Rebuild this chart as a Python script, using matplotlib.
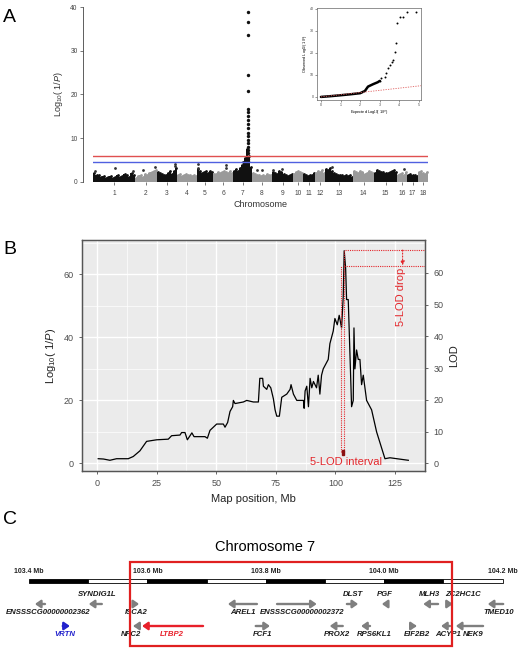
import matplotlib
matplotlib.use('Agg')
import matplotlib.pyplot as plt
from matplotlib.patches import Rectangle
from matplotlib.ticker import MultipleLocator

plt.rcParams['font.family'] = ['Liberation Sans', 'DejaVu Sans']
plt.rcParams['mathtext.fontset'] = 'custom'
plt.rcParams['mathtext.rm'] = 'Liberation Sans'
plt.rcParams['mathtext.it'] = 'Liberation Sans:italic'

# ---------------- panel A data (manhattan) ----------------
chrom_names = [str(i) for i in range(1, 19)]
chrom_len = [42, 22, 20, 20, 16, 20, 19, 20, 21, 10, 12, 10, 28, 21, 23, 10, 11, 10]
chrom_env = [
	[2.0, 1.5, 1.6, 1.2, 1.4, 1.0, 1.1, 1.3, 1.0, 1.2, 1.6, 1.1, 1.3, 1.8, 1.5, 1.2, 2.0, 1.6],
	[1.0, 1.3, 1.5, 1.2, 1.8, 1.6, 2.0, 2.2, 2.5, 2.8],
	[2.2, 2.0, 1.8, 1.7, 1.5, 2.0, 2.5, 1.8, 2.6, 3.3],
	[1.5, 1.8, 1.4, 1.7, 1.9, 1.6, 1.5, 1.3, 1.6, 1.4],
	[3.0, 2.5, 2.0, 2.3, 2.6, 2.0, 2.4, 2.2],
	[1.8, 1.9, 2.2, 2.0, 2.3, 2.6, 2.2, 2.0, 2.4, 2.1],
	[2.5, 3.0, 2.6, 3.2, 3.8, 4.5, 5.5, 7.5, 6.0, 3.5],
	[2.0, 1.8, 1.5, 1.7, 1.3, 1.6, 1.4, 1.8, 1.5, 1.7],
	[2.2, 2.0, 1.8, 2.5, 2.2, 1.8, 1.6, 1.4, 1.5, 1.8],
	[1.8, 2.2, 2.5, 2.3, 2.0],
	[1.8, 1.5, 1.3, 1.6, 1.5, 2.0],
	[2.0, 2.5, 2.2, 2.8, 2.0],
	[3.0, 2.8, 3.2, 2.5, 2.0, 1.8, 1.6, 1.5, 1.7, 1.4, 1.6, 1.3, 1.5, 1.2],
	[2.5, 2.3, 2.0, 2.4, 2.2, 1.8, 2.1, 2.5, 2.3, 2.0],
	[2.0, 2.8, 2.5, 2.3, 2.2, 2.0, 2.1, 2.3, 2.4, 2.8, 2.2],
	[1.5, 1.8, 2.0, 1.7, 2.2],
	[1.5, 1.8, 1.6, 1.7, 1.4],
	[2.2, 2.5, 2.0, 1.8, 2.3],
]
outlier_pos = [2, 22, 40, 50, 62, 82, 82, 105, 105, 133, 133, 164, 169, 180, 189, 239, 311]
outlier_val = [2.6, 3.1, 2.6, 2.8, 3.5, 4.0, 3.6, 4.0, 3.3, 3.8, 3.2, 2.8, 2.7, 2.8, 3.0, 3.5, 3.0]
peak_pos = 155
peak_val = [38.9, 36.6, 33.6, 24.5, 20.9, 16.7, 16.1, 15.1, 14.2, 13.3, 12.3, 11.3,
			10.4, 9.6, 8.8, 8.1, 7.3, 6.6, 5.8, 5.2, 4.8]
thres_red = 6.0
thres_blue = 4.5

# QQ inset
qq_exp = [0, 0.5, 1.0, 1.5, 2.0, 2.24, 2.4, 2.66, 2.9, 3.0, 3.08, 3.25, 3.34, 3.42,
		  3.5, 3.6, 3.68, 3.76, 3.81, 3.9, 4.02, 4.19, 4.41, 4.86]
qq_obs = [0, 0.35, 0.76, 1.2, 1.7, 2.7, 4.7, 5.8, 6.7, 7.3, 8.8, 9.2, 10.8, 13.0,
		  14.5, 15.8, 16.8, 20.6, 24.4, 33.5, 36.5, 36.5, 38.8, 38.8]

# ---------------- panel B data ----------------
b_pos = [0.5, 2.7, 5.4, 8.2, 13.1, 15.2, 18.0, 19.4, 20.8, 25.0, 29.9, 31.3, 34.8, 35.5,
		 36.9, 37.9, 39.8, 40.7, 45.3, 46.3, 47.4, 50.2, 53.0, 53.7, 54.8, 55.8, 56.9,
		 57.2, 57.9, 61.4, 62.8, 65.6, 67.7, 68.3, 69.5, 69.8, 71.2, 71.9, 72.9, 74.0,
		 74.7, 75.4, 76.5, 77.5, 79.6, 81.0, 81.4, 82.4, 83.8, 86.6, 86.9, 87.3, 88.0,
		 88.7, 89.4, 90.1, 90.8, 92.1, 92.8, 93.5, 94.2, 94.9, 95.6, 97.0, 97.7, 99.1,
		 99.8, 100.8, 101.6, 102.6, 103.3, 103.7, 104.3, 104.7, 105.4, 106.1, 106.8,
		 107.5, 107.8, 108.2, 108.9, 109.6, 110.3, 111.0, 111.7, 113.1, 115.2, 117.3,
		 120.8, 122.9, 130.6]
b_val = [1.5, 1.4, 1.0, 1.5, 1.5, 2.2, 4.0, 5.5, 7.0, 7.5, 7.7, 8.8, 9.0, 9.8,
		 9.8, 7.5, 9.7, 8.5, 8.5, 8.0, 10.5, 12.5, 12.5, 11.5, 13.0, 16.5, 18.0,
		 20.0, 19.0, 19.5, 20.0, 19.5, 19.5, 27.0, 27.0, 24.5, 23.5, 25.0, 24.0, 20.5,
		 17.0, 15.0, 15.0, 21.0, 22.0, 23.5, 25.0, 22.0, 20.0, 20.0, 17.5, 23.0, 24.5,
		 18.0, 27.0, 24.0, 26.0, 24.0, 28.0, 22.0, 28.0, 30.0, 31.0, 33.0, 38.0, 42.0,
		 46.0, 44.0, 47.0, 43.0, 53.0, 67.5, 62.0, 52.0, 52.0, 35.0, 18.0,
		 20.0, 43.0, 30.0, 36.0, 33.0, 33.0, 25.0, 28.0, 20.0, 17.0, 10.0,
		 1.5, 1.8, 1.0]
peak_lod = 67.7
drop_lod = 62.6
interval = [102.2, 103.5]

# ---------------- panel C data ----------------
seg_edges = [103.4, 103.5, 103.6, 103.7, 103.8, 103.9, 104.0, 104.1, 104.2]
mb_ticks = [103.4, 103.6, 103.8, 104.0, 104.2]
box_range = [103.571, 104.115]
gene_names = ['ENSSSCG00000002362', 'SYNDIG1L', 'ISCA2', 'AREL1', 'ENSSSCG00000002372',
			  'DLST', 'PGF', 'MLH3', 'ZC2HC1C', 'TMED10',
			  'VRTN', 'NFC2', 'LTBP2', 'FCF1', 'PROX2', 'RPS6KL1', 'EIF2B2', 'ACYP1', 'NEK9']
gene_from = [103.427, 103.523, 103.579, 103.785, 103.819, 103.937, 104.006, 104.091, 104.111, 104.201,
			 103.457, 103.582, 103.694, 103.783, 103.930, 103.976, 104.049, 104.111, 104.167]
gene_to = [103.410, 103.501, 103.586, 103.736, 103.886, 103.956, 103.996, 104.066, 104.116, 104.175,
		   103.469, 103.576, 103.591, 103.807, 103.908, 103.961, 104.055, 104.096, 104.121]
gene_label_x = [103.432, 103.515, 103.581, 103.761, 103.861, 103.947, 104.001, 104.077, 104.133, 104.194,
				103.461, 103.572, 103.642, 103.795, 103.920, 103.984, 104.055, 104.108, 104.150]
gene_row = [1, 1, 1, 1, 1, 1, 1, 1, 1, 1, 2, 2, 2, 2, 2, 2, 2, 2, 2]
gene_label_up = [False, True, False, False, False, True, True, True, True, False,
				 False, False, False, False, False, False, False, False, False]
gene_color = {'VRTN': '#2222CC', 'LTBP2': '#E8202A'}


fig = plt.figure(figsize=(5.2, 6.49), dpi=100)
W, H = 520., 649.


def fbox(x0, y0, x1, y1):
	# pixel box (top-left origin) -> figure fraction
	return [x0 / W, 1 - y1 / H, (x1 - x0) / W, (y1 - y0) / H]


# ---- A: manhattan
ax = fig.add_axes(fbox(93, 7, 428, 182))
start = 0
centers = []
for i, env in enumerate(chrom_env):
	n = len(env)
	w = chrom_len[i] / n
	xs = [start + (k + 0.5) * w for k in range(n)]
	col = '#111111' if i % 2 == 0 else '#9A9A9A'
	ax.bar(xs, env, width=w, color=col, linewidth=0)
	ax.scatter(xs, env, s=4, color=col, linewidths=0)
	centers.append(start + chrom_len[i] / 2)
	start += chrom_len[i]
ax.scatter(outlier_pos, outlier_val, s=4, color='#333333', linewidths=0)
ax.scatter([peak_pos] * len(peak_val), peak_val, s=6, color='#111111', linewidths=0, zorder=3)
ax.axhline(thres_red, color='#E05050', lw=1.0, zorder=4)
ax.axhline(thres_blue, color='#5060E0', lw=1.0, zorder=4)
ax.set_xlim(0, sum(chrom_len))
ax.set_ylim(0, 40)
for s in ['top', 'right', 'bottom']:
	ax.spines[s].set_visible(False)
ax.spines['left'].set_position(('outward', 7))
ax.spines['left'].set_bounds(0, 40)
ax.spines['left'].set_linewidth(0.6)
ax.spines['left'].set_color('#444444')
ax.set_yticks([0, 10, 20, 30, 40])
ax.set_xticks(centers)
ax.set_xticklabels(chrom_names)
ax.tick_params(axis='both', labelsize=4.8, length=2, width=0.5, colors='#444444', pad=2)
ax.tick_params(axis='x', pad=4)
ax.set_xlabel('Chromosome', fontsize=6.5, color='#333333', labelpad=2)
ax.set_ylabel(r'Log$_{10}$( 1/$P$)', fontsize=6.5, color='#333333', labelpad=4)

# ---- A inset: QQ
axq = fig.add_axes(fbox(317, 8, 421, 100))
axq.plot(qq_exp[:10], qq_obs[:10], color='black', lw=1.8, solid_capstyle='round')
axq.scatter(qq_exp[9:], qq_obs[9:], s=2, color='black', linewidths=0)
axq.plot([0, 5.2], [0, 5.2], color='#E06060', lw=0.6, ls=(0, (1.5, 1.5)))
axq.set_xlim(-0.2, 5.1)
axq.set_ylim(-1.4, 40.45)
axq.set_xticks([0, 1, 2, 3, 4, 5])
axq.set_yticks([0, 10, 20, 30, 40])
axq.tick_params(labelsize=2.6, length=1.2, width=0.4, pad=1, colors='#444444')
for s in axq.spines.values():
	s.set_linewidth(0.5)
	s.set_color('#666666')
axq.set_xlabel(r'Expected Log$_{10}$( 1/$P$)', fontsize=2.8, labelpad=1)
axq.set_ylabel(r'Observed Log$_{10}$( 1/$P$)', fontsize=2.8, labelpad=1)

# ---- B: map position
axb = fig.add_axes(fbox(82, 240, 425, 471))
axb.set_facecolor('#EBEBEB')
axb.plot(b_pos, b_val, color='black', lw=0.9, zorder=3)
axb.set_xlim(-6.3, 137.6)
axb.set_ylim(-2.4, 70.9)
axb.set_xticks([0, 25, 50, 75, 100, 125])
axb.set_yticks([0, 20, 40, 60])
axb.xaxis.set_minor_locator(MultipleLocator(12.5))
axb.yaxis.set_minor_locator(MultipleLocator(10))
axb.grid(which='major', color='white', lw=1.0)
axb.grid(which='minor', color='white', lw=0.5)
axb.set_axisbelow(True)
axb.tick_params(which='minor', length=0)
axb.tick_params(which='major', labelsize=6.5, length=2.5, width=0.6, colors='#4D4D4D')
for s in axb.spines.values():
	s.set_color('#555555')
	s.set_linewidth(0.9)
axb.set_xlabel('Map position, Mb', fontsize=8, color='#222222', labelpad=4)
axb.set_ylabel(r'Log$_{10}$( 1/$P$)', fontsize=8, color='#222222', labelpad=4)

red = '#E3262B'
dot = (0, (1, 1))
axb.plot([interval[0]] * 2, [3.5, drop_lod], color=red, lw=0.8, ls=dot, zorder=4)
axb.plot([interval[1]] * 2, [3.5, peak_lod], color=red, lw=0.8, ls=dot, zorder=4)
axb.plot([104.0, 137.6], [peak_lod] * 2, color=red, lw=0.8, ls=dot, zorder=4)
axb.plot([103.5, 137.6], [drop_lod] * 2, color=red, lw=0.8, ls=dot, zorder=4)
axb.annotate('', xy=(128.2, drop_lod + 0.2), xytext=(128.2, peak_lod),
			 arrowprops=dict(arrowstyle='-|>,head_length=0.25,head_width=0.12', color=red,
							 lw=0.8, ls=':', shrinkA=0, shrinkB=0))
axb.add_patch(Rectangle((interval[0] + 0.4, 2.6), interval[1] - interval[0] - 0.2, 1.6,
						color='#8B1010', zorder=5))
axb.text(127.6, 52.9, '5-LOD drop', rotation=90, color=red, fontsize=8, ha='center', va='center')
axb.text(104.6, 0.4, '5-LOD interval', color=red, fontsize=8, ha='center', va='center')

axr = axb.twinx()
axr.set_ylim(-2.4 * 0.9915, 70.9 * 0.9915)
axr.set_yticks([0, 10, 20, 30, 40, 50, 60])
axr.tick_params(labelsize=6.5, length=2.5, width=0.6, colors='#4D4D4D')
for s in axr.spines.values():
	s.set_color('#555555')
	s.set_linewidth(0.9)
axr.set_ylabel('LOD', fontsize=8, color='#222222', labelpad=4)

# ---- C: gene track
axc = fig.add_axes([0, 0, 1, 99 / H])
axc.set_xlim(103.4 - 29 / 592., 103.4 + 491 / 592.)
axc.set_ylim(649, 550)
axc.axis('off')
for k in range(len(seg_edges) - 1):
	axc.add_patch(Rectangle((seg_edges[k], 579), seg_edges[k + 1] - seg_edges[k], 4,
							facecolor='black' if k % 2 == 0 else 'white',
							edgecolor='black', lw=0.6))
for t in mb_ticks:
	axc.text(t, 572, '%.1f Mb' % t, fontsize=5, ha='center', va='center', fontweight='bold',
			 color='#222222')
axc.add_patch(Rectangle((box_range[0], 562), box_range[1] - box_range[0], 84,
						fill=False, edgecolor='#E02020', lw=1.6, zorder=6))
row_y = {1: 604, 2: 626}
for i, g in enumerate(gene_names):
	c = gene_color.get(g, '#7F7F7F')
	y = row_y[gene_row[i]]
	axc.annotate('', xy=(gene_to[i], y), xytext=(gene_from[i], y),
				 arrowprops=dict(arrowstyle='-|>,head_length=0.5,head_width=0.35', color=c,
								 lw=1.7, shrinkA=0, shrinkB=0, mutation_scale=6.5))
	if gene_row[i] == 1:
		ly = 595 if gene_label_up[i] else 613
	else:
		ly = 635
	tc = gene_color.get(g, '#1A1A1A')
	axc.text(gene_label_x[i], ly, g, fontsize=5.6, style='italic', fontweight='bold',
			 ha='center', va='center', color=tc)

fig.text(265 / W, 1 - 547 / H, 'Chromosome 7', fontsize=10.5, ha='center', va='center')
fig.text(3 / W, 1 - 18 / H, 'A', fontsize=14, va='center')
fig.text(3 / W, 1 - 250 / H, 'B', fontsize=14, va='center')
fig.text(3 / W, 1 - 520 / H, 'C', fontsize=14, va='center')

fig.savefig('out.png', dpi=100)
